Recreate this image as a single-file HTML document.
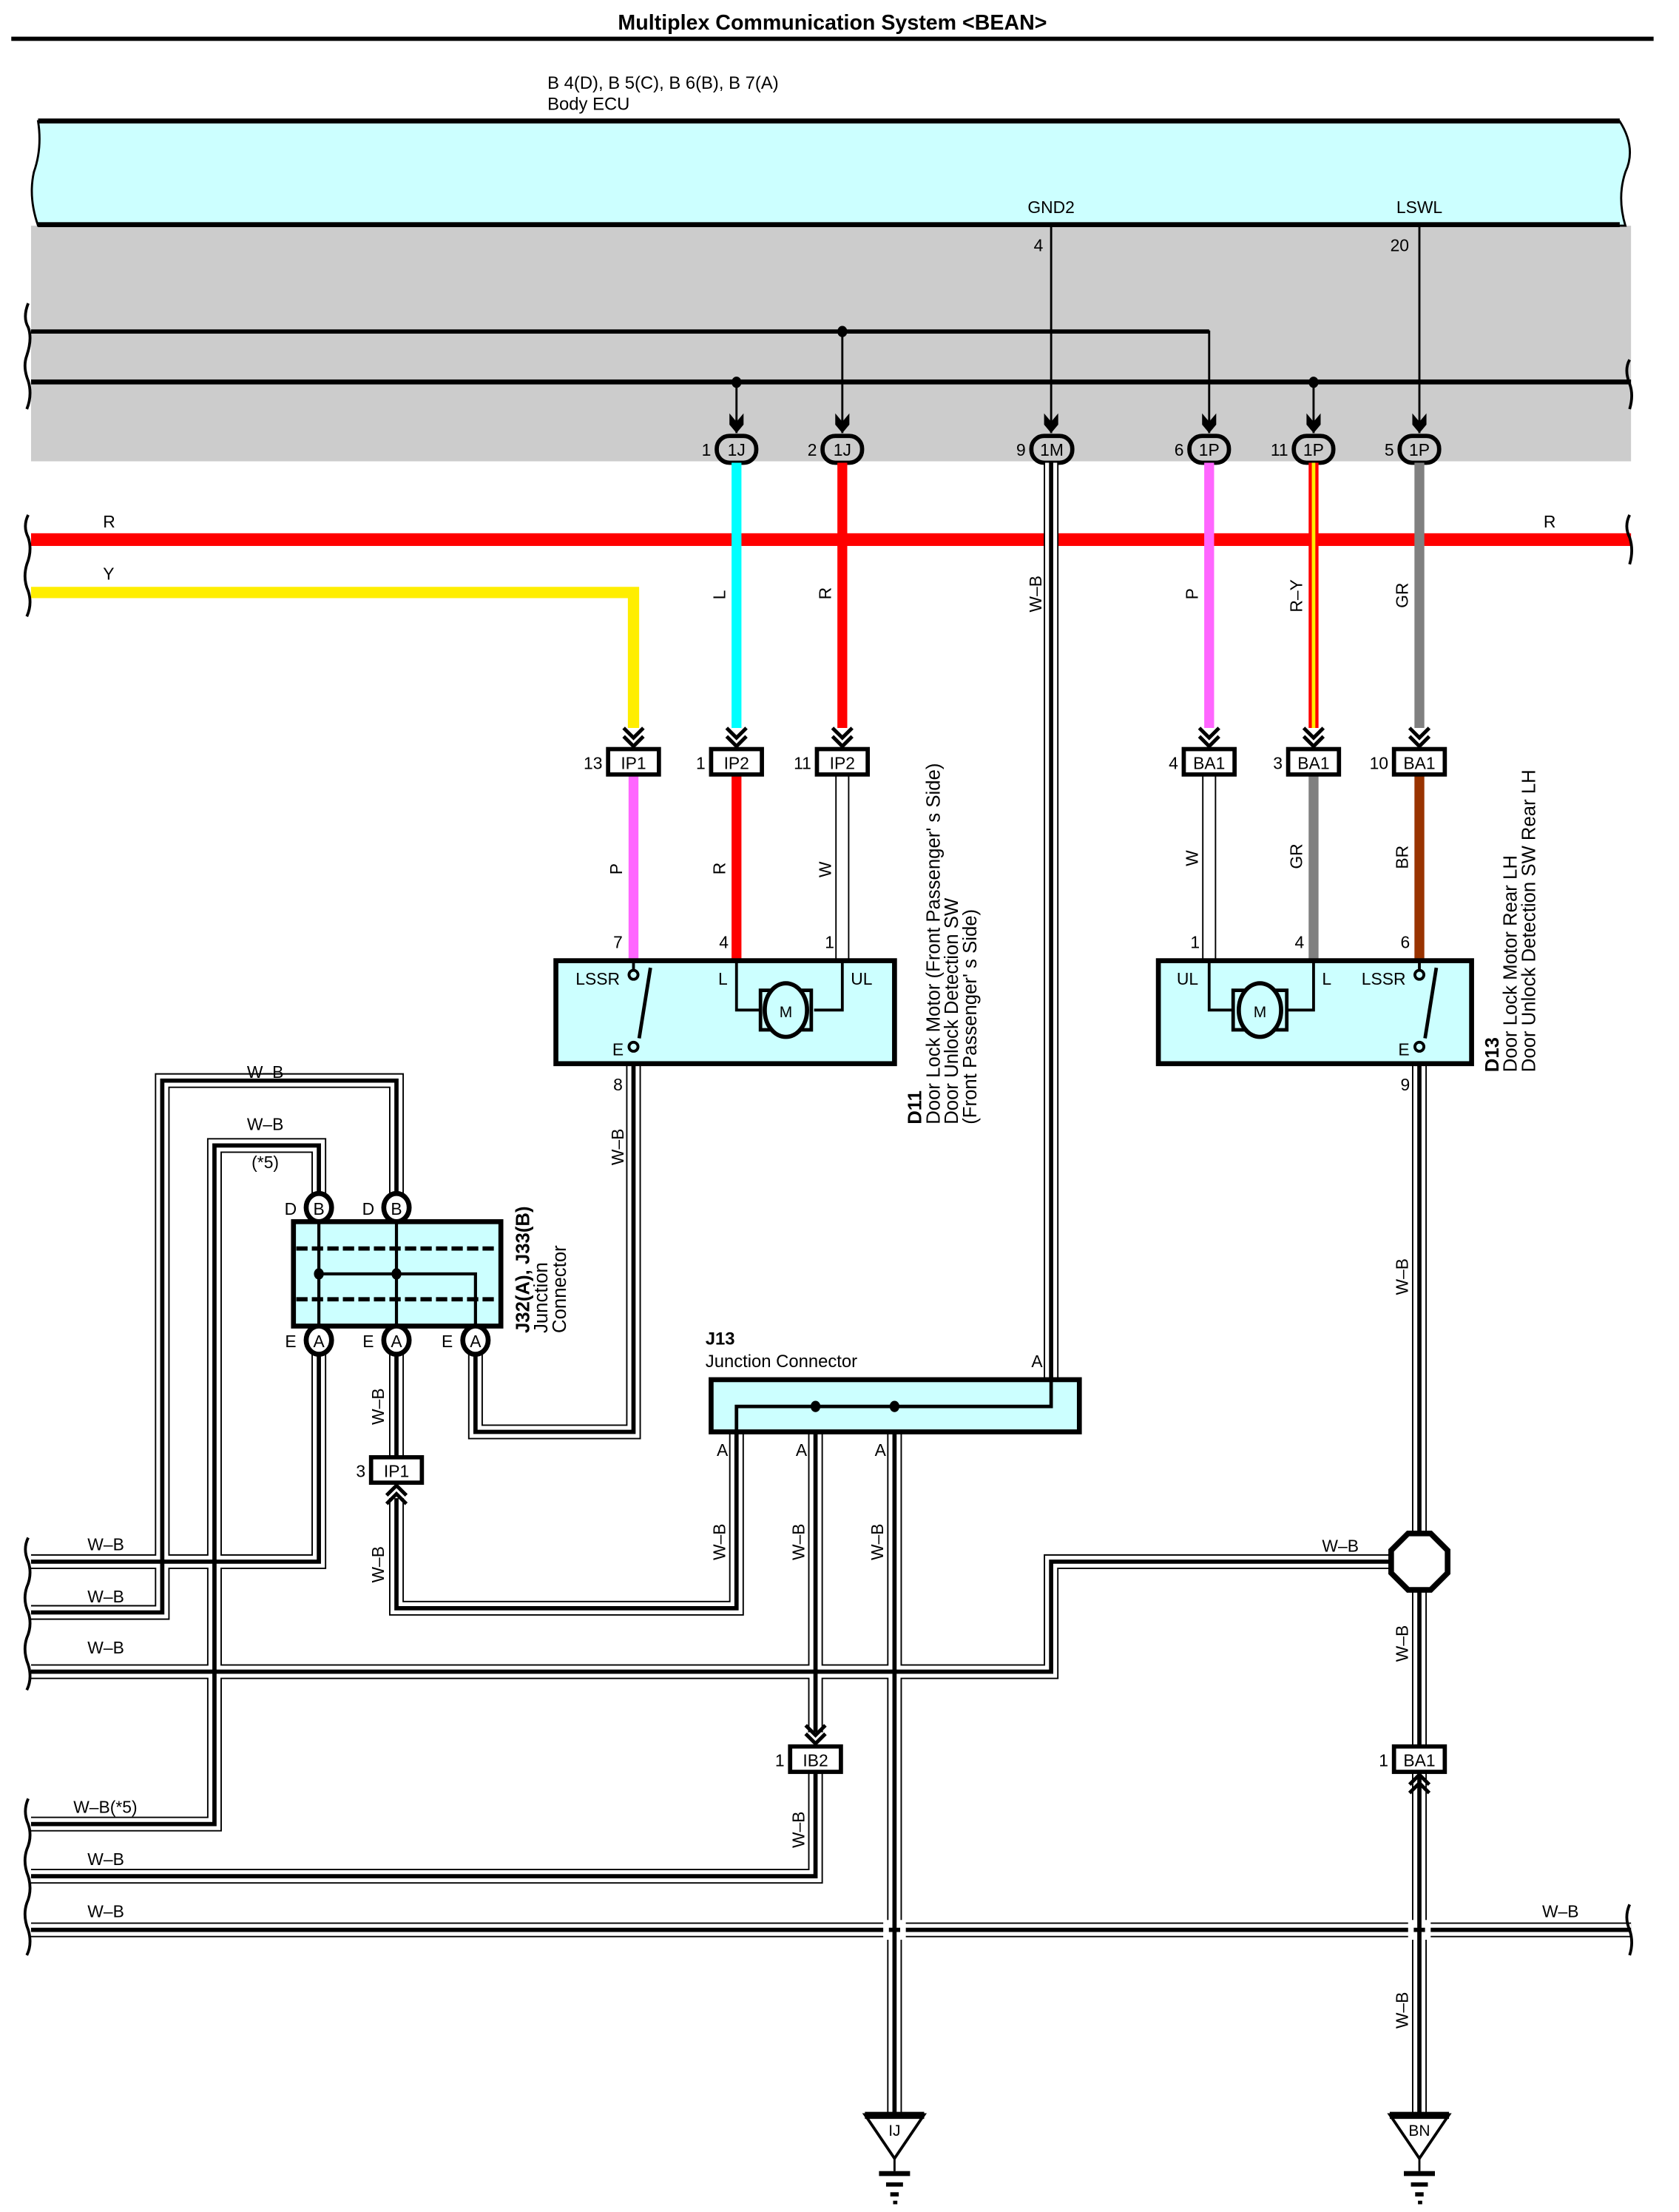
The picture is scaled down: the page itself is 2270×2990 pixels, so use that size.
<!DOCTYPE html>
<html><head><meta charset="utf-8"><style>
html,body{margin:0;padding:0;background:#fff;}
svg{display:block;}
text{font-family:"Liberation Sans",Arial,sans-serif;fill:#000;}
</style></head><body>
<svg width="2270" height="2990" viewBox="0 0 1190 1568" preserveAspectRatio="none" xmlns="http://www.w3.org/2000/svg">
<defs>
<g id="arr"><path d="M0 0 L0 -10" stroke="#000" stroke-width="1.5"/><path d="M-5 -14 L0 -8 L5 -14 L5 -6 L0 0 L-5 -6 Z" fill="#000"/></g>
<g id="chd" fill="none" stroke="#000" stroke-width="2.6"><path d="M-7 -14 L0 -7 L7 -14"/><path d="M-7 -8 L0 -1 L7 -8"/></g>
<g id="chu" fill="none" stroke="#000" stroke-width="2.6"><path d="M-7 14 L0 7 L7 14"/><path d="M-7 8 L0 1 L7 8"/></g>
</defs>

<text x="590" y="21" font-size="15" font-weight="bold" text-anchor="middle">Multiplex Communication System &lt;BEAN&gt;</text>
<rect x="8" y="26" width="1164" height="3" fill="#000"/>

<text x="388" y="63" font-size="12.5">B 4(D), B 5(C), B 6(B), B 7(A)</text>
<text x="388" y="78" font-size="12.5">Body ECU</text>

<rect x="22" y="160" width="1134" height="167" fill="#cccccc"/>
<path d="M27 86 L1148 86 Q1160 105 1152 122 Q1146 140 1152 160 L27 160 Q20 140 24 122 Q30 105 27 86 Z" fill="#ccffff" stroke="#000" stroke-width="1.5"/>
<rect x="27" y="84" width="1121" height="3.5" fill="#000"/>
<rect x="27" y="157.5" width="1121" height="3.5" fill="#000"/>
<text x="745" y="151" font-size="12" text-anchor="middle">GND2</text>
<text x="1006" y="151" font-size="12" text-anchor="middle">LSWL</text>
<text x="736" y="178" font-size="12" text-anchor="middle">4</text>
<text x="992" y="178" font-size="12" text-anchor="middle">20</text>
<g stroke="#000" stroke-width="1.5" fill="none">
<path d="M745 160 V300"/><path d="M1006 160 V300"/>
<path d="M22 235 H857 V300"/><path d="M597 235 V300"/>
<path d="M522 271 V300"/><path d="M931 271 V300"/>
</g>
<rect x="22" y="269" width="1134" height="3.5" fill="#000"/>
<rect x="22" y="233.5" width="835" height="3" fill="#000"/>
<g fill="#000"><ellipse cx="597" cy="235" rx="3.5" ry="4"/><ellipse cx="522" cy="271" rx="3.5" ry="4"/><ellipse cx="931" cy="271" rx="3.5" ry="4"/></g>
<g fill="none" stroke="#000" stroke-width="2">
<path d="M20 215 Q16 225 20 232 Q23 240 19 252 Q16 260 20 270 Q23 280 19 290"/>
<path d="M1155 255 Q1151 262 1155 272 Q1158 280 1155 290"/>
</g>
<g>
<use href="#arr" x="522" y="307"/><use href="#arr" x="597" y="307"/><use href="#arr" x="745" y="307"/>
<use href="#arr" x="857" y="307"/><use href="#arr" x="931" y="307"/><use href="#arr" x="1006" y="307"/>
</g>
<g fill="#cccccc" stroke="#000" stroke-width="3">
<rect x="508" y="309" width="28" height="19" rx="9"/><rect x="583" y="309" width="28" height="19" rx="9"/>
<rect x="731" y="309" width="29" height="19" rx="9"/><rect x="843" y="309" width="28" height="19" rx="9"/>
<rect x="917" y="309" width="28" height="19" rx="9"/><rect x="992" y="309" width="28" height="19" rx="9"/>
</g>
<g font-size="12" text-anchor="middle">
<text x="522" y="323">1J</text><text x="597" y="323">1J</text><text x="745.5" y="323">1M</text>
<text x="857" y="323">1P</text><text x="931" y="323">1P</text><text x="1006" y="323">1P</text>
</g>
<g font-size="12" text-anchor="end">
<text x="504" y="323">1</text><text x="579" y="323">2</text><text x="727" y="323">9</text>
<text x="839" y="323">6</text><text x="913" y="323">11</text><text x="988" y="323">5</text>
</g>

<rect x="22" y="378" width="1134" height="9" fill="#ff0000"/>
<path d="M22 420 H449 V516" fill="none" stroke="#ffee00" stroke-width="8"/>
<g fill="none" stroke="#000" stroke-width="2">
<path d="M20 365 Q16 373 20 381 Q23 390 19 400 Q16 410 20 419 Q23 428 19 437"/>
<path d="M1155 365 Q1151 373 1155 381 Q1158 390 1155 400"/>
</g>
<g font-size="12"><text x="73" y="374">R</text><text x="1094" y="374">R</text><text x="73" y="411">Y</text></g>

<g stroke-width="7" fill="none">
<path d="M522 328 V516" stroke="#00ffff"/>
<path d="M597 328 V516" stroke="#ff0000"/>
<path d="M857 328 V516" stroke="#ff66ff"/>
<path d="M931 328 V516" stroke="#ff0000"/>
<path d="M1006 328 V516" stroke="#808080"/>
</g>
<path d="M931 328 V516" stroke="#ffee00" stroke-width="2.5"/>
<g font-size="12">
<text transform="translate(514,425) rotate(-90)">L</text>
<text transform="translate(589,425) rotate(-90)">R</text>
<text transform="translate(738,434) rotate(-90)">W–B</text>
<text transform="translate(849,425) rotate(-90)">P</text>
<text transform="translate(923,434) rotate(-90)">R–Y</text>
<text transform="translate(998,431) rotate(-90)">GR</text>
</g>

<g fill="none" stroke-linejoin="miter">
<g stroke="#000" stroke-width="10.5">
<path d="M745 328 V995 H522 V1140 H281 V1062"/>
<path d="M578 995 V1228"/><path d="M634 995 V1498"/>
<path d="M449 755 V1015 H337 V958"/>
<path d="M1006 755 V1087"/><path d="M1006 1127 V1238"/><path d="M1006 1257 V1498"/>
<path d="M986 1107 H745 V1185 H22"/>
<path d="M281 958 V1033"/>
<path d="M226 958 V1107 H22"/>
<path d="M281 847 V766 H115 V1143 H22"/>
<path d="M226 847 V812 H152 V1293 H22"/>
<path d="M578 1257 V1330 H22"/>
<path d="M22 1368 H1156"/>
</g>
<g stroke="#fff" stroke-width="8.5">
<path d="M745 328 V995 H522 V1140 H281 V1062"/>
<path d="M578 995 V1228"/><path d="M634 995 V1498"/>
<path d="M449 755 V1015 H337 V958"/>
<path d="M1006 755 V1087"/><path d="M1006 1127 V1238"/><path d="M1006 1257 V1498"/>
<path d="M986 1107 H745 V1185 H22"/>
<path d="M281 958 V1033"/>
<path d="M226 958 V1107 H22"/>
<path d="M281 847 V766 H115 V1143 H22"/>
<path d="M226 847 V812 H152 V1293 H22"/>
<path d="M578 1257 V1330 H22"/>
<path d="M22 1368 H1156"/>
</g>
<g stroke="#000" stroke-width="3">
<path d="M745 328 V995 H522 V1140 H281 V1062"/>
<path d="M578 995 V1228"/><path d="M634 995 V1498"/>
<path d="M449 755 V1015 H337 V958"/>
<path d="M1006 755 V1087"/><path d="M1006 1127 V1238"/><path d="M1006 1257 V1498"/>
<path d="M986 1107 H745 V1185 H22"/>
<path d="M281 958 V1033"/>
<path d="M226 958 V1107 H22"/>
<path d="M281 847 V766 H115 V1143 H22"/>
<path d="M226 847 V812 H152 V1293 H22"/>
<path d="M578 1257 V1330 H22"/>
<path d="M22 1368 H1156"/>
</g>
</g>
<rect x="626" y="1361" width="4" height="14" fill="#fff"/><rect x="638" y="1361" width="4" height="14" fill="#fff"/>
<rect x="998" y="1361" width="4" height="14" fill="#fff"/><rect x="1010" y="1361" width="4" height="14" fill="#fff"/>
<g fill="none" stroke="#000" stroke-width="2">
<path d="M20 1090 Q16 1098 20 1107 Q23 1116 19 1125 Q16 1134 20 1143 Q23 1152 19 1161 Q16 1170 20 1180 Q23 1190 19 1198"/>
<path d="M20 1275 Q16 1284 20 1293 Q23 1302 19 1311 Q16 1320 20 1330 Q23 1340 19 1349 Q16 1358 20 1368 Q23 1378 19 1386"/>
<path d="M1155 1350 Q1151 1359 1155 1368 Q1158 1377 1155 1386"/>
</g>

<g stroke-width="7" fill="none">
<path d="M449 550 V680" stroke="#ff66ff"/>
<path d="M522 550 V680" stroke="#ff0000"/>
<path d="M931 550 V680" stroke="#808080"/>
<path d="M1006 550 V680" stroke="#993300"/>
</g>
<g stroke="#000" stroke-width="1" fill="none">
<path d="M592.5 550 V680 M601.5 550 V680"/>
<path d="M852.5 550 V680 M861.5 550 V680"/>
</g>
<g font-size="12">
<text transform="translate(441,620) rotate(-90)">P</text>
<text transform="translate(514,620) rotate(-90)">R</text>
<text transform="translate(589,622) rotate(-90)">W</text>
<text transform="translate(849,614) rotate(-90)">W</text>
<text transform="translate(923,616) rotate(-90)">GR</text>
<text transform="translate(998,616) rotate(-90)">BR</text>
</g>
<g font-size="12" text-anchor="middle">
<text x="438" y="672">7</text><text x="513" y="672">4</text><text x="588" y="672">1</text>
<text x="847" y="672">1</text><text x="921" y="672">4</text><text x="996" y="672">6</text>
<text x="438" y="773">8</text><text x="996" y="773">9</text>
</g>

<use href="#chd" x="449" y="530"/><use href="#chd" x="522" y="530"/><use href="#chd" x="597" y="530"/>
<use href="#chd" x="857" y="530"/><use href="#chd" x="931" y="530"/><use href="#chd" x="1006" y="530"/>
<use href="#chd" x="578" y="1237"/>
<use href="#chu" x="281" y="1052"/>
<use href="#chu" x="1006" y="1257"/>
<g fill="#fff" stroke="#000" stroke-width="3">
<rect x="431" y="531" width="36" height="18"/><rect x="504" y="531" width="36" height="18"/><rect x="579" y="531" width="36" height="18"/>
<rect x="839" y="531" width="36" height="18"/><rect x="913" y="531" width="36" height="18"/><rect x="988" y="531" width="36" height="18"/>
<rect x="263" y="1033" width="36" height="18"/><rect x="560" y="1238" width="36" height="18"/><rect x="988" y="1238" width="36" height="18"/>
</g>
<g font-size="12" text-anchor="middle">
<text x="449" y="545">IP1</text><text x="522" y="545">IP2</text><text x="597" y="545">IP2</text>
<text x="857" y="545">BA1</text><text x="931" y="545">BA1</text><text x="1006" y="545">BA1</text>
<text x="281" y="1047">IP1</text><text x="578" y="1252">IB2</text><text x="1006" y="1252">BA1</text>
</g>
<g font-size="12" text-anchor="end">
<text x="427" y="545">13</text><text x="500" y="545">1</text><text x="575" y="545">11</text>
<text x="835" y="545">4</text><text x="909" y="545">3</text><text x="984" y="545">10</text>
<text x="259" y="1047">3</text><text x="556" y="1252">1</text><text x="984" y="1252">1</text>
</g>

<rect x="394" y="681" width="240" height="73" fill="#ccffff" stroke="#000" stroke-width="3.5"/>
<g fill="none" stroke="#000" stroke-width="2">
<path d="M449 681 V687"/>
<path d="M522 681 V716 H539"/><path d="M597 681 V716 H577"/>
<path d="M453 736 L461 686" stroke-width="2.5"/>
<circle cx="449" cy="691" r="3.2"/><circle cx="449" cy="742" r="3.2"/>
<rect x="539" y="702" width="10" height="28" stroke-width="2.5"/><rect x="565" y="702" width="10" height="28" stroke-width="2.5"/>
</g>
<ellipse cx="557" cy="716" rx="15" ry="19" fill="#ccffff" stroke="#000" stroke-width="3"/>
<g font-size="12"><text x="408" y="698">LSSR</text><text x="509" y="698">L</text><text x="603" y="698">UL</text><text x="434" y="748">E</text>
<text x="557" y="721" text-anchor="middle" font-size="11">M</text></g>
<g font-size="13.5">
<text transform="translate(653,797) rotate(-90)" font-weight="bold">D11</text>
<text transform="translate(666,797) rotate(-90)">Door Lock Motor (Front Passenger' s Side)</text>
<text transform="translate(679,797) rotate(-90)">Door Unlock Detection SW</text>
<text transform="translate(692,797) rotate(-90)">(Front Passenger' s Side)</text>
</g>

<rect x="821" y="681" width="222" height="73" fill="#ccffff" stroke="#000" stroke-width="3.5"/>
<g fill="none" stroke="#000" stroke-width="2">
<path d="M1006 681 V687"/>
<path d="M857 681 V716 H874"/><path d="M931 681 V716 H912"/>
<path d="M1010 736 L1018 686" stroke-width="2.5"/>
<circle cx="1006" cy="691" r="3.2"/><circle cx="1006" cy="742" r="3.2"/>
<rect x="874" y="702" width="10" height="28" stroke-width="2.5"/><rect x="902" y="702" width="10" height="28" stroke-width="2.5"/>
</g>
<ellipse cx="893" cy="716" rx="15" ry="19" fill="#ccffff" stroke="#000" stroke-width="3"/>
<g font-size="12"><text x="834" y="698">UL</text><text x="937" y="698">L</text><text x="965" y="698">LSSR</text><text x="991" y="748">E</text>
<text x="893" y="721" text-anchor="middle" font-size="11">M</text></g>
<g font-size="13.5">
<text transform="translate(1062,760) rotate(-90)" font-weight="bold">D13</text>
<text transform="translate(1075,760) rotate(-90)">Door Lock Motor Rear LH</text>
<text transform="translate(1088,760) rotate(-90)">Door Unlock Detection SW Rear LH</text>
</g>
<text transform="translate(442,826) rotate(-90)" font-size="12">W–B</text>
<text transform="translate(998,918) rotate(-90)" font-size="12">W–B</text>
<text transform="translate(998,1178) rotate(-90)" font-size="12">W–B</text>
<text transform="translate(998,1438) rotate(-90)" font-size="12">W–B</text>

<polygon points="998,1087 1014,1087 1026,1099 1026,1115 1014,1127 998,1127 986,1115 986,1099" fill="#fff" stroke="#000" stroke-width="4"/>
<text x="950" y="1100" font-size="12" text-anchor="middle">W–B</text>

<rect x="504" y="978" width="261" height="37" fill="#ccffff" stroke="#000" stroke-width="3.5"/>
<path d="M745 958 V997 H522 V1015" fill="none" stroke="#000" stroke-width="2.5"/>
<g fill="#000"><ellipse cx="578" cy="997" rx="3.5" ry="4"/><ellipse cx="634" cy="997" rx="3.5" ry="4"/></g>
<text x="500" y="953" font-size="12.5" font-weight="bold">J13</text>
<text x="500" y="969" font-size="12.5">Junction Connector</text>
<g font-size="12" text-anchor="middle"><text x="735" y="969">A</text><text x="512" y="1032">A</text><text x="568" y="1032">A</text><text x="624" y="1032">A</text></g>
<g font-size="12">
<text transform="translate(514,1106) rotate(-90)">W–B</text>
<text transform="translate(570,1106) rotate(-90)">W–B</text>
<text transform="translate(626,1106) rotate(-90)">W–B</text>
<text transform="translate(272,1122) rotate(-90)">W–B</text>
<text transform="translate(272,1010) rotate(-90)">W–B</text>
<text transform="translate(570,1310) rotate(-90)">W–B</text>
</g>

<rect x="208" y="866" width="147" height="74" fill="#ccffff" stroke="#000" stroke-width="3.5"/>
<g stroke="#000" stroke-width="3" stroke-dasharray="8 3"><path d="M210 885 H353"/><path d="M210 921 H353"/></g>
<g fill="none" stroke="#000" stroke-width="2.2"><path d="M226 866 V940"/><path d="M281 866 V940"/><path d="M226 903 H337 V940"/></g>
<g fill="#000"><ellipse cx="226" cy="903" rx="3.5" ry="4"/><ellipse cx="281" cy="903" rx="3.5" ry="4"/></g>
<g fill="#fff" stroke="#000" stroke-width="3.5">
<ellipse cx="226" cy="856" rx="9" ry="10"/><ellipse cx="281" cy="856" rx="9" ry="10"/>
<ellipse cx="226" cy="950" rx="9" ry="10"/><ellipse cx="281" cy="950" rx="9" ry="10"/><ellipse cx="337" cy="950" rx="9" ry="10"/>
</g>
<g font-size="12" text-anchor="middle">
<text x="226" y="861">B</text><text x="281" y="861">B</text>
<text x="226" y="955">A</text><text x="281" y="955">A</text><text x="337" y="955">A</text>
<text x="206" y="861">D</text><text x="261" y="861">D</text>
<text x="206" y="955">E</text><text x="261" y="955">E</text><text x="317" y="955">E</text>
</g>
<g font-size="13.5">
<text transform="translate(375,945) rotate(-90)" font-weight="bold">J32(A), J33(B)</text>
<text transform="translate(388,945) rotate(-90)">Junction</text>
<text transform="translate(401,945) rotate(-90)">Connector</text>
</g>
<g font-size="12" text-anchor="middle">
<text x="188" y="764">W–B</text><text x="188" y="801">W–B</text><text x="188" y="828">(*5)</text>
</g>
<g font-size="12">
<text x="62" y="1099">W–B</text><text x="62" y="1136">W–B</text><text x="62" y="1172">W–B</text>
<text x="52" y="1285">W–B(*5)</text><text x="62" y="1322">W–B</text><text x="62" y="1359">W–B</text>
<text x="1093" y="1359">W–B</text>
</g>

<g>
<polygon points="613,1499 655,1499 634,1530" fill="#fff" stroke="#000" stroke-width="2"/>
<rect x="613" y="1497" width="42" height="5" fill="#000"/>
<text x="634" y="1514" font-size="11" text-anchor="middle">IJ</text>
<path d="M634 1530 V1539" stroke="#000" stroke-width="1.5"/>
<rect x="623" y="1539" width="22" height="3.5" fill="#000"/><rect x="628" y="1547" width="12" height="3" fill="#000"/>
<rect x="631" y="1554" width="6" height="3" fill="#000"/><rect x="633" y="1560" width="3" height="2.5" fill="#000"/>
</g>
<g>
<polygon points="985,1499 1027,1499 1006,1530" fill="#fff" stroke="#000" stroke-width="2"/>
<rect x="985" y="1497" width="42" height="5" fill="#000"/>
<text x="1006" y="1514" font-size="11" text-anchor="middle">BN</text>
<path d="M1006 1530 V1539" stroke="#000" stroke-width="1.5"/>
<rect x="995" y="1539" width="22" height="3.5" fill="#000"/><rect x="1000" y="1547" width="12" height="3" fill="#000"/>
<rect x="1003" y="1554" width="6" height="3" fill="#000"/><rect x="1005" y="1560" width="3" height="2.5" fill="#000"/>
</g>
</svg>
</body></html>
